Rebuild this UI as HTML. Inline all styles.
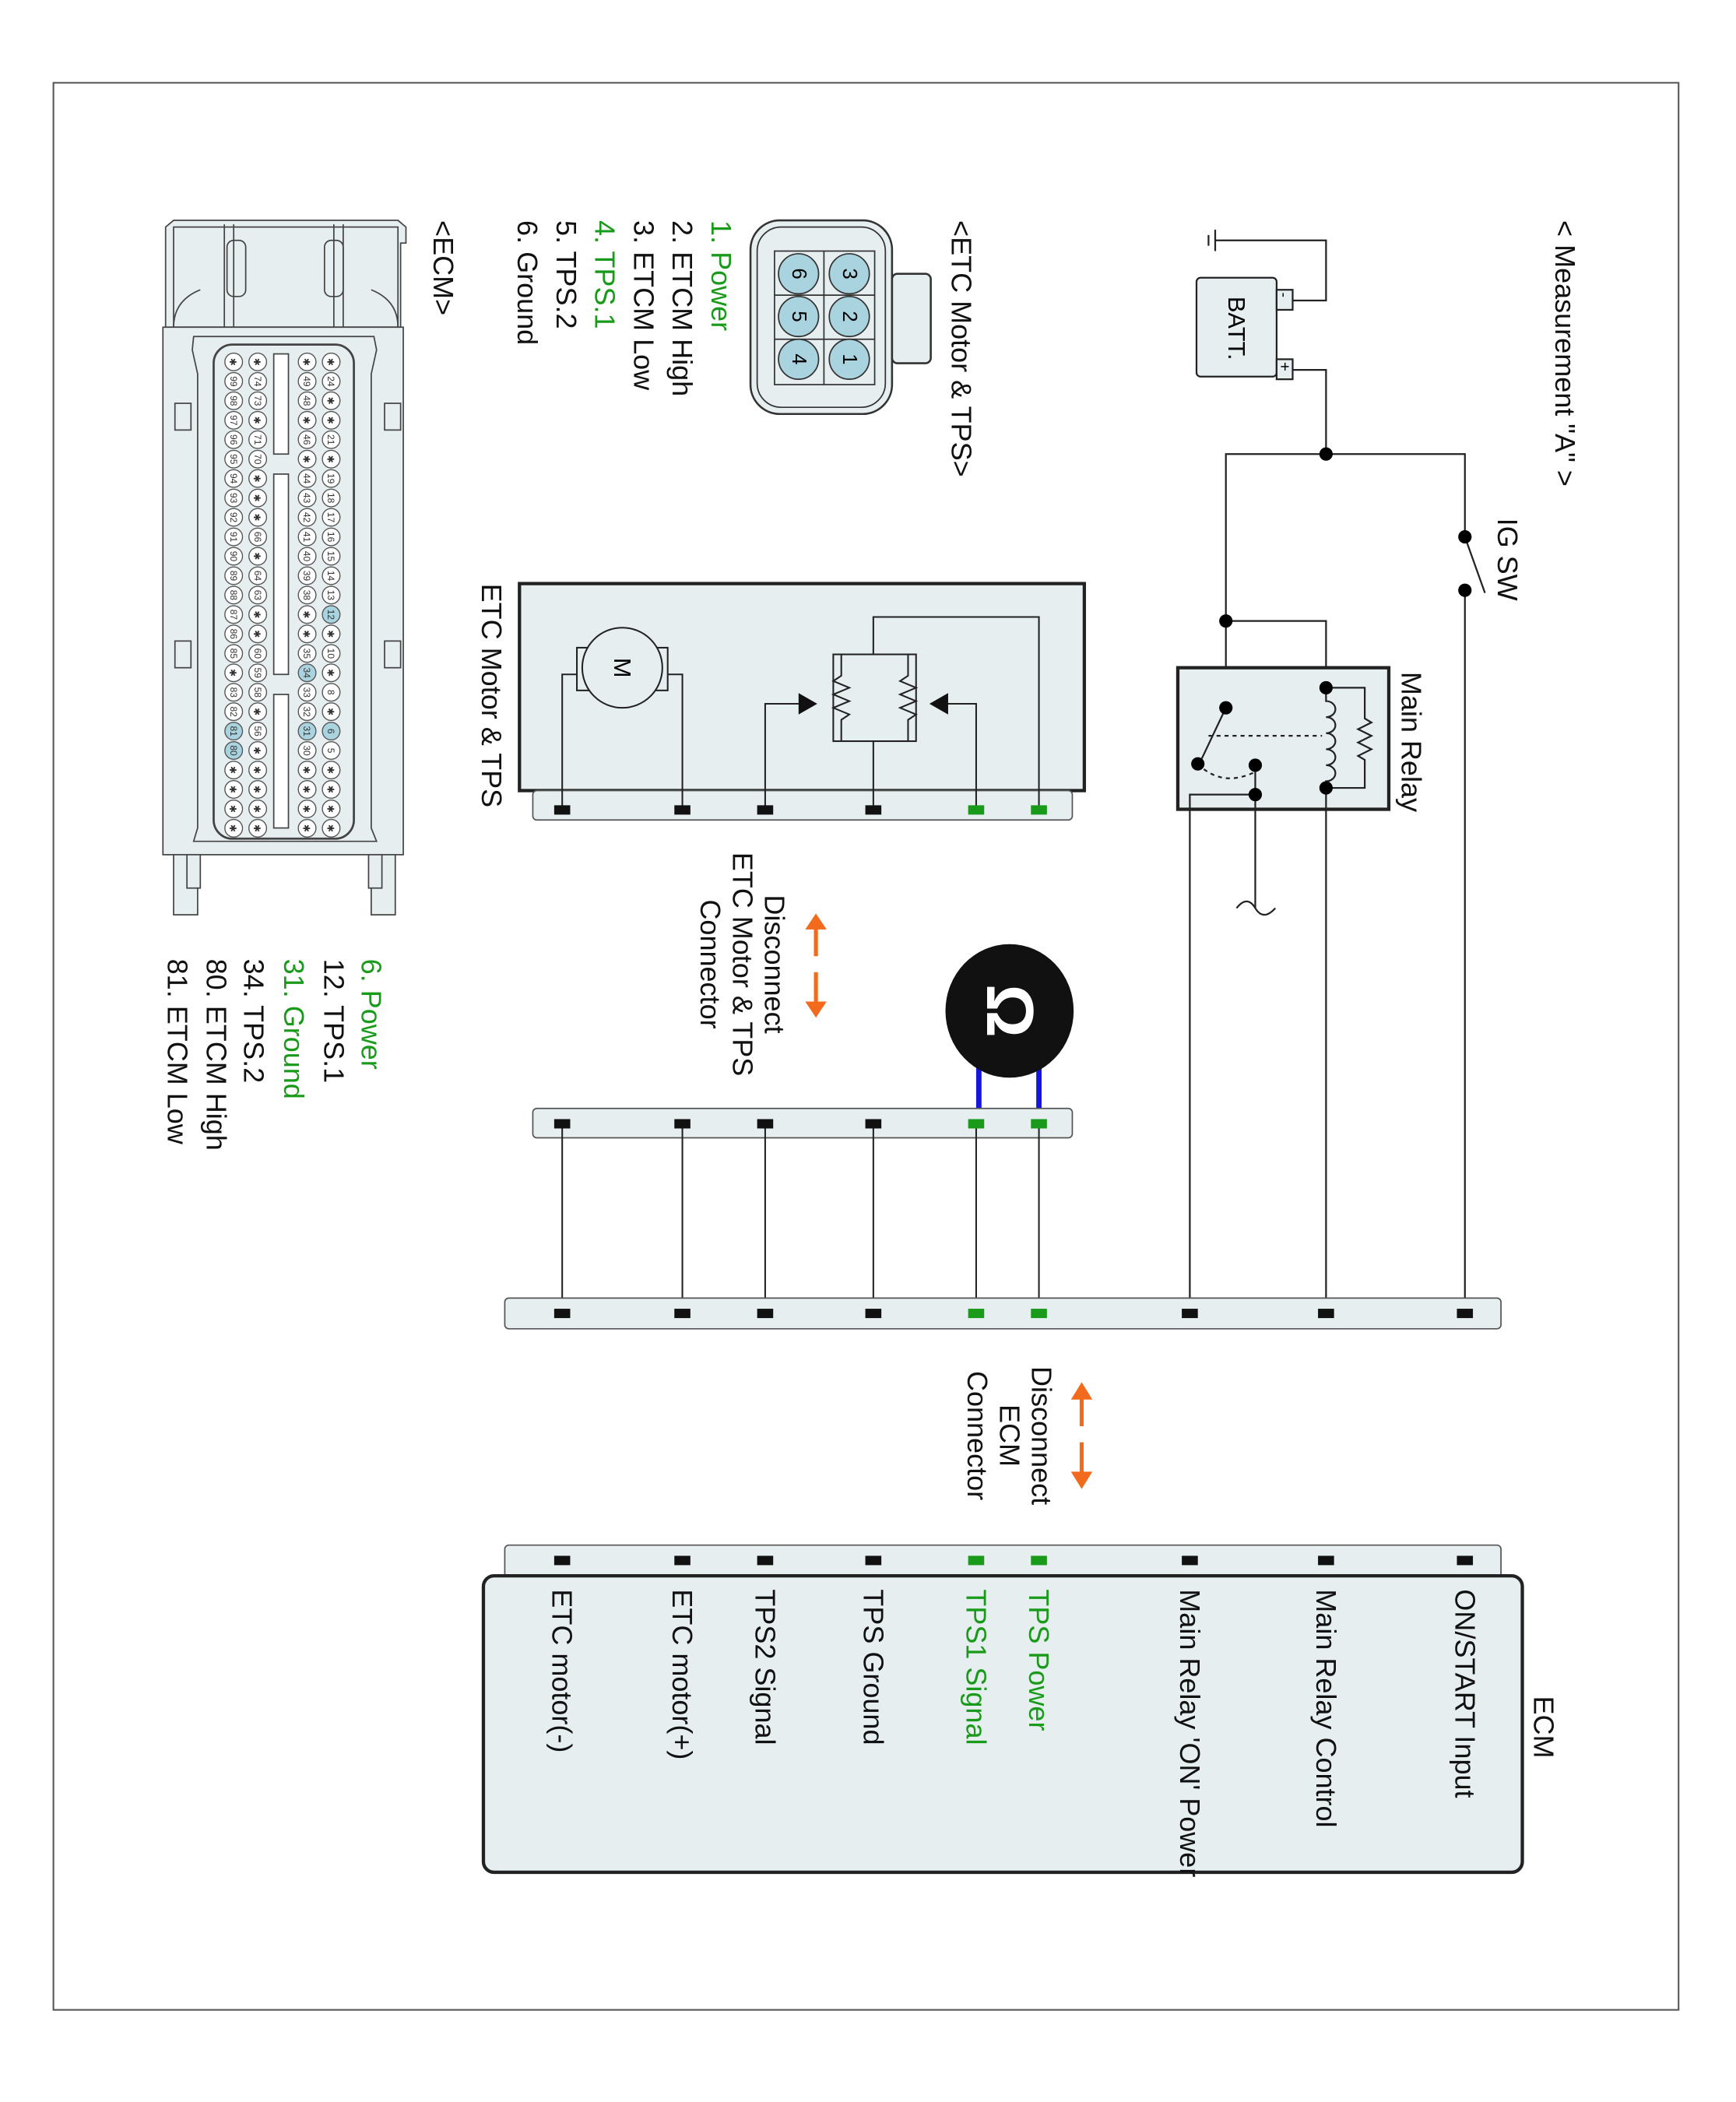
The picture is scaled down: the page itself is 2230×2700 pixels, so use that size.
<!DOCTYPE html>
<html><head><meta charset="utf-8"><style>
html,body{margin:0;padding:0;background:#fff;}
svg{display:block;}
text{font-family:"Liberation Sans",sans-serif;}
.p circle{fill:#fff;stroke:#555;stroke-width:0.8;}
.p.b circle{fill:#a9d3df;}
.p text{font-size:7px;text-anchor:middle;fill:#333;}
.l{font-size:21px;fill:#111;}
.g{fill:#1a9a1a;}
</style></head><body>
<svg width="2230" height="2700" viewBox="0 0 1300 1574" preserveAspectRatio="none" xmlns="http://www.w3.org/2000/svg">
<rect x="0" y="0" width="1300" height="1574" fill="#fff"/>
<rect x="40" y="62" width="1217" height="1443" fill="none" stroke="#555" stroke-width="1.2"/>

<text class="l" transform="translate(1172,165) rotate(90)" dominant-baseline="central">&lt; Measurement "A" &gt;</text>

<g stroke="#222" stroke-width="1.3" fill="none">
<rect x="896" y="208" width="60" height="74" rx="3" fill="#e6eef0"/>
<rect x="956" y="217" width="12" height="15" fill="#e6eef0"/>
<rect x="956" y="269" width="12" height="15" fill="#e6eef0"/>
<polyline points="968,225 993,225 993,180 910,180"/>
<line x1="910" y1="172" x2="910" y2="188"/>
<line x1="905" y1="176" x2="905" y2="184"/>
<polyline points="968,277 993,277 993,340"/>
<polyline points="918,465 918,340 1097,340 1097,402"/>
<line x1="1097" y1="402" x2="1112" y2="444"/>
<line x1="1097" y1="442" x2="1097" y2="983"/>
<polyline points="918,465 918,530"/>
<polyline points="918,465 993,465 993,515"/>
</g>
<text transform="translate(926,222) rotate(90)" font-size="18" dominant-baseline="central">BATT.</text>
<text transform="translate(962,219) rotate(90)" font-size="11" dominant-baseline="central">-</text>
<text transform="translate(962,271) rotate(90)" font-size="12" dominant-baseline="central">+</text>
<circle cx="993" cy="340" r="5"/><circle cx="1097" cy="402" r="5"/><circle cx="1097" cy="442" r="5"/><circle cx="918" cy="465" r="5"/>
<text class="l" transform="translate(1129,388) rotate(90)" dominant-baseline="central">IG SW</text>

<rect x="882" y="500" width="158" height="106" fill="#e6eef0" stroke="#222" stroke-width="2.5"/>
<g stroke="#222" stroke-width="1.3" fill="none">
<path d="M993,515 L993,525 a7,6 0 0 1 0,12 a7,6 0 0 1 0,12 a7,6 0 0 1 0,12 a7,6 0 0 1 0,12 a7,6 0 0 1 0,12 L993,590"/>
<polyline points="993,515 1022,515 1022,538 1027,541 1017,546 1027,551 1017,556 1027,561 1017,566 1022,569 1022,590 993,590"/>
<line x1="918" y1="530" x2="900" y2="568"/>
<line x1="905" y1="551" x2="990" y2="551" stroke-dasharray="3,3"/>
<path d="M897,572 Q915,590 940,578" stroke-dasharray="3,3"/>
<polyline points="940,595 891,595 891,983"/>
<line x1="940" y1="573" x2="940" y2="680"/>
<path d="M926,680 q8,-10 14,0 q6,10 15,0"/>
<line x1="993" y1="590" x2="993" y2="983"/>
</g>
<circle cx="918" cy="530" r="5"/><circle cx="897" cy="572" r="5"/><circle cx="940" cy="573" r="5"/><circle cx="940" cy="595" r="5"/><circle cx="993" cy="515" r="5"/><circle cx="993" cy="590" r="5"/>
<text class="l" transform="translate(1057,503) rotate(90)" dominant-baseline="central">Main Relay</text>

<rect x="389" y="437" width="423" height="155" fill="#e6eef0" stroke="#222" stroke-width="2.5"/>
<rect x="399" y="592" width="404" height="22" rx="3" fill="#e6eef0" stroke="#555" stroke-width="1"/>
<g stroke="#222" stroke-width="1.2" fill="none">
<rect x="432" y="485" width="68" height="32" fill="#e6eef0"/>
<circle cx="466" cy="500" r="30" fill="#e6eef0"/>
<polyline points="432,505 421,505 421,606"/>
<polyline points="500,505 511,505 511,606"/>
<rect x="624" y="490" width="62" height="65" fill="none"/>
<polyline points="630,490 630,506 624,510 636,515 624,520 636,525 624,530 636,535 630,539 630,555"/>
<polyline points="680,490 680,506 674,510 686,515 674,520 686,525 674,530 686,535 680,539 680,555"/>
<polyline points="573,606 573,527 600,527"/>
<polyline points="731,606 731,527 708,527"/>
<polyline points="654,606 654,555"/>
<polyline points="654,490 654,462 778,462 778,606"/>
</g>
<polygon points="598,519 598,535 612,527" fill="#111"/>
<polygon points="710,519 710,535 696,527" fill="#111"/>
<text transform="translate(466,500) rotate(90)" font-size="18" text-anchor="middle" dominant-baseline="central">M</text>
<text class="l" transform="translate(368,437) rotate(90)" dominant-baseline="central">ETC Motor &amp; TPS</text>
<g fill="#111"><rect x="415" y="603" width="12" height="7"/><rect x="505" y="603" width="12" height="7"/><rect x="567" y="603" width="12" height="7"/><rect x="648" y="603" width="12" height="7"/></g>
<g fill="#1a9a1a"><rect x="725" y="603" width="12" height="7"/><rect x="772" y="603" width="12" height="7"/></g>

<g fill="#f26a1b" stroke="#f26a1b" stroke-width="3">
<line x1="611" y1="692" x2="611" y2="716"/><line x1="611" y1="728" x2="611" y2="752"/>
<polygon points="603,696 619,696 611,684" stroke="none"/><polygon points="603,750 619,750 611,762" stroke="none"/>
</g>
<text class="l" transform="translate(580,722) rotate(90)" text-anchor="middle" dominant-baseline="central">Disconnect</text>
<text class="l" transform="translate(556,722) rotate(90)" text-anchor="middle" dominant-baseline="central">ETC Motor &amp; TPS</text>
<text class="l" transform="translate(532,722) rotate(90)" text-anchor="middle" dominant-baseline="central">Connector</text>

<line x1="733" y1="790" x2="733" y2="840" stroke="#1515e0" stroke-width="4"/>
<line x1="778" y1="790" x2="778" y2="840" stroke="#1515e0" stroke-width="4"/>
<ellipse cx="756" cy="757" rx="48" ry="50" fill="#111"/>
<text transform="translate(756,757) rotate(90)" font-size="50" font-weight="bold" fill="#fff" text-anchor="middle" dominant-baseline="central">Ω</text>

<rect x="399" y="830" width="404" height="22" rx="3" fill="#e6eef0" stroke="#555" stroke-width="1"/>
<g stroke="#222" stroke-width="1.2">
<line x1="421" y1="841" x2="421" y2="983"/><line x1="511" y1="841" x2="511" y2="983"/><line x1="573" y1="841" x2="573" y2="983"/><line x1="654" y1="841" x2="654" y2="983"/><line x1="731" y1="841" x2="731" y2="983"/><line x1="778" y1="841" x2="778" y2="983"/>
</g>
<rect x="378" y="972" width="746" height="23" rx="3" fill="#e6eef0" stroke="#555" stroke-width="1"/>
<g fill="#111"><rect x="415" y="838" width="12" height="7"/><rect x="505" y="838" width="12" height="7"/><rect x="567" y="838" width="12" height="7"/><rect x="648" y="838" width="12" height="7"/>
<rect x="415" y="980" width="12" height="7"/><rect x="505" y="980" width="12" height="7"/><rect x="567" y="980" width="12" height="7"/><rect x="648" y="980" width="12" height="7"/><rect x="885" y="980" width="12" height="7"/><rect x="987" y="980" width="12" height="7"/><rect x="1091" y="980" width="12" height="7"/></g>
<g fill="#1a9a1a"><rect x="725" y="838" width="12" height="7"/><rect x="772" y="838" width="12" height="7"/><rect x="725" y="980" width="12" height="7"/><rect x="772" y="980" width="12" height="7"/></g>

<g fill="#f26a1b" stroke="#f26a1b" stroke-width="3">
<line x1="810" y1="1045" x2="810" y2="1068"/><line x1="810" y1="1080" x2="810" y2="1104"/>
<polygon points="802,1048 818,1048 810,1035" stroke="none"/><polygon points="802,1102 818,1102 810,1115" stroke="none"/>
</g>
<text class="l" transform="translate(780,1075) rotate(90)" text-anchor="middle" dominant-baseline="central">Disconnect</text>
<text class="l" transform="translate(756,1075) rotate(90)" text-anchor="middle" dominant-baseline="central">ECM</text>
<text class="l" transform="translate(732,1075) rotate(90)" text-anchor="middle" dominant-baseline="central">Connector</text>

<rect x="378" y="1157" width="746" height="30" rx="3" fill="#e6eef0" stroke="#555" stroke-width="1"/>
<rect x="362" y="1180" width="778" height="222" rx="8" fill="#e6eef0" stroke="#222" stroke-width="2.5"/>
<g fill="#111"><rect x="415" y="1165" width="12" height="7"/><rect x="505" y="1165" width="12" height="7"/><rect x="567" y="1165" width="12" height="7"/><rect x="648" y="1165" width="12" height="7"/><rect x="885" y="1165" width="12" height="7"/><rect x="987" y="1165" width="12" height="7"/><rect x="1091" y="1165" width="12" height="7"/></g>
<g fill="#1a9a1a"><rect x="725" y="1165" width="12" height="7"/><rect x="772" y="1165" width="12" height="7"/></g>
<text class="l" transform="translate(1156,1270) rotate(90)" dominant-baseline="central">ECM</text>
<g class="l">
<text transform="translate(1097,1190) rotate(90)" dominant-baseline="central">ON/START Input</text>
<text transform="translate(993,1190) rotate(90)" dominant-baseline="central">Main Relay Control</text>
<text transform="translate(891,1190) rotate(90)" dominant-baseline="central">Main Relay 'ON' Power</text>
<text class="g" transform="translate(778,1190) rotate(90)" dominant-baseline="central">TPS Power</text>
<text class="g" transform="translate(731,1190) rotate(90)" dominant-baseline="central">TPS1 Signal</text>
<text transform="translate(654,1190) rotate(90)" dominant-baseline="central">TPS Ground</text>
<text transform="translate(573,1190) rotate(90)" dominant-baseline="central">TPS2 Signal</text>
<text transform="translate(511,1190) rotate(90)" dominant-baseline="central">ETC motor(+)</text>
<text transform="translate(421,1190) rotate(90)" dominant-baseline="central">ETC motor(-)</text>
</g>

<text class="l" transform="translate(720,165) rotate(90)" dominant-baseline="central">&lt;ETC Motor &amp; TPS&gt;</text>
<rect x="562" y="165" width="106" height="145" rx="22" fill="#e6eef0" stroke="#333" stroke-width="1.5"/>
<rect x="567" y="170" width="96" height="135" rx="18" fill="none" stroke="#333" stroke-width="1"/>
<rect x="668" y="205" width="29" height="67" rx="4" fill="#e6eef0" stroke="#333" stroke-width="1.5"/>
<rect x="580" y="188" width="75" height="100" fill="#e6eef0" stroke="#333" stroke-width="1"/>
<line x1="617" y1="188" x2="617" y2="288" stroke="#333"/><line x1="580" y1="221" x2="655" y2="221" stroke="#333"/><line x1="580" y1="254" x2="655" y2="254" stroke="#333"/>
<g fill="#a9d3df" stroke="#333" stroke-width="1">
<circle cx="636" cy="205" r="15"/><circle cx="636" cy="237" r="15"/><circle cx="636" cy="269" r="15"/>
<circle cx="598" cy="205" r="15"/><circle cx="598" cy="237" r="15"/><circle cx="598" cy="269" r="15"/>
</g>
<g font-size="15" text-anchor="middle" dominant-baseline="central">
<text transform="translate(636,205) rotate(90)">3</text><text transform="translate(636,237) rotate(90)">2</text><text transform="translate(636,269) rotate(90)">1</text>
<text transform="translate(598,205) rotate(90)">6</text><text transform="translate(598,237) rotate(90)">5</text><text transform="translate(598,269) rotate(90)">4</text>
</g>
<g class="l">
<text class="g" transform="translate(540,165) rotate(90)" dominant-baseline="central">1. Power</text>
<text transform="translate(511,165) rotate(90)" dominant-baseline="central">2. ETCM High</text>
<text transform="translate(482,165) rotate(90)" dominant-baseline="central">3. ETCM Low</text>
<text class="g" transform="translate(453,165) rotate(90)" dominant-baseline="central">4. TPS.1</text>
<text transform="translate(424,165) rotate(90)" dominant-baseline="central">5. TPS.2</text>
<text transform="translate(395,165) rotate(90)" dominant-baseline="central">6. Ground</text>
</g>

<text class="l" transform="translate(332,165) rotate(90)" dominant-baseline="central">&lt;ECM&gt;</text>
<g stroke="#444" stroke-width="1" fill="#e6eef0">
<path d="M124,182 L124,170 L130,165 L298,165 L304,170 L304,182 L300,182 L300,245 L124,245 Z"/>
<rect x="130" y="170" width="168" height="75" fill="none"/>
<rect x="170" y="180" width="14" height="42" rx="5"/>
<rect x="243" y="180" width="14" height="42" rx="5"/>
<line x1="168" y1="168" x2="168" y2="245"/><line x1="175" y1="168" x2="175" y2="245"/>
<line x1="250" y1="168" x2="250" y2="245"/><line x1="257" y1="168" x2="257" y2="245"/>
<path d="M130,245 q0,-20 20,-28" fill="none"/><path d="M298,245 q0,-20 -20,-28" fill="none"/>
<rect x="122" y="245" width="180" height="395"/>
<path d="M145,252 L280,252 L282,262 L278,280 L278,620 L282,630 L145,630 L148,620 L148,280 L144,262 Z"/>
<rect x="160" y="258" width="105" height="370" rx="14" stroke-width="1.6"/>
<rect x="205" y="265" width="11" height="75" fill="#fff"/>
<rect x="205" y="355" width="11" height="150" fill="#fff"/>
<rect x="205" y="520" width="11" height="100" fill="#fff"/>
<rect x="131" y="302" width="12" height="20"/><rect x="288" y="302" width="12" height="20"/>
<rect x="131" y="480" width="12" height="20"/><rect x="288" y="480" width="12" height="20"/>
<rect x="130" y="640" width="18" height="45"/><rect x="140" y="640" width="10" height="25"/>
<rect x="278" y="640" width="18" height="45"/><rect x="276" y="640" width="10" height="25"/>
</g>
<g class="p">
<g transform="translate(248,271) rotate(90)"><circle r="6.6"/><text y="3">✱</text></g>
<g transform="translate(248,285.6) rotate(90)"><circle r="6.6"/><text y="2.5">24</text></g>
<g transform="translate(248,300.1) rotate(90)"><circle r="6.6"/><text y="3">✱</text></g>
<g transform="translate(248,314.7) rotate(90)"><circle r="6.6"/><text y="3">✱</text></g>
<g transform="translate(248,329.2) rotate(90)"><circle r="6.6"/><text y="2.5">21</text></g>
<g transform="translate(248,343.8) rotate(90)"><circle r="6.6"/><text y="3">✱</text></g>
<g transform="translate(248,358.3) rotate(90)"><circle r="6.6"/><text y="2.5">19</text></g>
<g transform="translate(248,372.9) rotate(90)"><circle r="6.6"/><text y="2.5">18</text></g>
<g transform="translate(248,387.4) rotate(90)"><circle r="6.6"/><text y="2.5">17</text></g>
<g transform="translate(248,402) rotate(90)"><circle r="6.6"/><text y="2.5">16</text></g>
<g transform="translate(248,416.5) rotate(90)"><circle r="6.6"/><text y="2.5">15</text></g>
<g transform="translate(248,431.1) rotate(90)"><circle r="6.6"/><text y="2.5">14</text></g>
<g transform="translate(248,445.6) rotate(90)"><circle r="6.6"/><text y="2.5">13</text></g>
<g class="p b" transform="translate(248,460.2) rotate(90)"><circle r="6.6"/><text y="2.5">12</text></g>
<g transform="translate(248,474.7) rotate(90)"><circle r="6.6"/><text y="3">✱</text></g>
<g transform="translate(248,489.3) rotate(90)"><circle r="6.6"/><text y="2.5">10</text></g>
<g transform="translate(248,503.8) rotate(90)"><circle r="6.6"/><text y="3">✱</text></g>
<g transform="translate(248,518.4) rotate(90)"><circle r="6.6"/><text y="2.5">8</text></g>
<g transform="translate(248,532.9) rotate(90)"><circle r="6.6"/><text y="3">✱</text></g>
<g class="p b" transform="translate(248,547.5) rotate(90)"><circle r="6.6"/><text y="2.5">6</text></g>
<g transform="translate(248,562) rotate(90)"><circle r="6.6"/><text y="2.5">5</text></g>
<g transform="translate(248,576.6) rotate(90)"><circle r="6.6"/><text y="3">✱</text></g>
<g transform="translate(248,591.1) rotate(90)"><circle r="6.6"/><text y="3">✱</text></g>
<g transform="translate(248,605.7) rotate(90)"><circle r="6.6"/><text y="3">✱</text></g>
<g transform="translate(248,620.2) rotate(90)"><circle r="6.6"/><text y="3">✱</text></g>
<g transform="translate(230,271) rotate(90)"><circle r="6.6"/><text y="3">✱</text></g>
<g transform="translate(230,285.6) rotate(90)"><circle r="6.6"/><text y="2.5">49</text></g>
<g transform="translate(230,300.1) rotate(90)"><circle r="6.6"/><text y="2.5">48</text></g>
<g transform="translate(230,314.7) rotate(90)"><circle r="6.6"/><text y="3">✱</text></g>
<g transform="translate(230,329.2) rotate(90)"><circle r="6.6"/><text y="2.5">46</text></g>
<g transform="translate(230,343.8) rotate(90)"><circle r="6.6"/><text y="3">✱</text></g>
<g transform="translate(230,358.3) rotate(90)"><circle r="6.6"/><text y="2.5">44</text></g>
<g transform="translate(230,372.9) rotate(90)"><circle r="6.6"/><text y="2.5">43</text></g>
<g transform="translate(230,387.4) rotate(90)"><circle r="6.6"/><text y="2.5">42</text></g>
<g transform="translate(230,402) rotate(90)"><circle r="6.6"/><text y="2.5">41</text></g>
<g transform="translate(230,416.5) rotate(90)"><circle r="6.6"/><text y="2.5">40</text></g>
<g transform="translate(230,431.1) rotate(90)"><circle r="6.6"/><text y="2.5">39</text></g>
<g transform="translate(230,445.6) rotate(90)"><circle r="6.6"/><text y="2.5">38</text></g>
<g transform="translate(230,460.2) rotate(90)"><circle r="6.6"/><text y="3">✱</text></g>
<g transform="translate(230,474.7) rotate(90)"><circle r="6.6"/><text y="3">✱</text></g>
<g transform="translate(230,489.3) rotate(90)"><circle r="6.6"/><text y="2.5">35</text></g>
<g class="p b" transform="translate(230,503.8) rotate(90)"><circle r="6.6"/><text y="2.5">34</text></g>
<g transform="translate(230,518.4) rotate(90)"><circle r="6.6"/><text y="2.5">33</text></g>
<g transform="translate(230,532.9) rotate(90)"><circle r="6.6"/><text y="2.5">32</text></g>
<g class="p b" transform="translate(230,547.5) rotate(90)"><circle r="6.6"/><text y="2.5">31</text></g>
<g transform="translate(230,562) rotate(90)"><circle r="6.6"/><text y="2.5">30</text></g>
<g transform="translate(230,576.6) rotate(90)"><circle r="6.6"/><text y="3">✱</text></g>
<g transform="translate(230,591.1) rotate(90)"><circle r="6.6"/><text y="3">✱</text></g>
<g transform="translate(230,605.7) rotate(90)"><circle r="6.6"/><text y="3">✱</text></g>
<g transform="translate(230,620.2) rotate(90)"><circle r="6.6"/><text y="3">✱</text></g>
<g transform="translate(193,271) rotate(90)"><circle r="6.6"/><text y="3">✱</text></g>
<g transform="translate(193,285.6) rotate(90)"><circle r="6.6"/><text y="2.5">74</text></g>
<g transform="translate(193,300.1) rotate(90)"><circle r="6.6"/><text y="2.5">73</text></g>
<g transform="translate(193,314.7) rotate(90)"><circle r="6.6"/><text y="3">✱</text></g>
<g transform="translate(193,329.2) rotate(90)"><circle r="6.6"/><text y="2.5">71</text></g>
<g transform="translate(193,343.8) rotate(90)"><circle r="6.6"/><text y="2.5">70</text></g>
<g transform="translate(193,358.3) rotate(90)"><circle r="6.6"/><text y="3">✱</text></g>
<g transform="translate(193,372.9) rotate(90)"><circle r="6.6"/><text y="3">✱</text></g>
<g transform="translate(193,387.4) rotate(90)"><circle r="6.6"/><text y="3">✱</text></g>
<g transform="translate(193,402) rotate(90)"><circle r="6.6"/><text y="2.5">66</text></g>
<g transform="translate(193,416.5) rotate(90)"><circle r="6.6"/><text y="3">✱</text></g>
<g transform="translate(193,431.1) rotate(90)"><circle r="6.6"/><text y="2.5">64</text></g>
<g transform="translate(193,445.6) rotate(90)"><circle r="6.6"/><text y="2.5">63</text></g>
<g transform="translate(193,460.2) rotate(90)"><circle r="6.6"/><text y="3">✱</text></g>
<g transform="translate(193,474.7) rotate(90)"><circle r="6.6"/><text y="3">✱</text></g>
<g transform="translate(193,489.3) rotate(90)"><circle r="6.6"/><text y="2.5">60</text></g>
<g transform="translate(193,503.8) rotate(90)"><circle r="6.6"/><text y="2.5">59</text></g>
<g transform="translate(193,518.4) rotate(90)"><circle r="6.6"/><text y="2.5">58</text></g>
<g transform="translate(193,532.9) rotate(90)"><circle r="6.6"/><text y="3">✱</text></g>
<g transform="translate(193,547.5) rotate(90)"><circle r="6.6"/><text y="2.5">56</text></g>
<g transform="translate(193,562) rotate(90)"><circle r="6.6"/><text y="3">✱</text></g>
<g transform="translate(193,576.6) rotate(90)"><circle r="6.6"/><text y="3">✱</text></g>
<g transform="translate(193,591.1) rotate(90)"><circle r="6.6"/><text y="3">✱</text></g>
<g transform="translate(193,605.7) rotate(90)"><circle r="6.6"/><text y="3">✱</text></g>
<g transform="translate(193,620.2) rotate(90)"><circle r="6.6"/><text y="3">✱</text></g>
<g transform="translate(175,271) rotate(90)"><circle r="6.6"/><text y="3">✱</text></g>
<g transform="translate(175,285.6) rotate(90)"><circle r="6.6"/><text y="2.5">99</text></g>
<g transform="translate(175,300.1) rotate(90)"><circle r="6.6"/><text y="2.5">98</text></g>
<g transform="translate(175,314.7) rotate(90)"><circle r="6.6"/><text y="2.5">97</text></g>
<g transform="translate(175,329.2) rotate(90)"><circle r="6.6"/><text y="2.5">96</text></g>
<g transform="translate(175,343.8) rotate(90)"><circle r="6.6"/><text y="2.5">95</text></g>
<g transform="translate(175,358.3) rotate(90)"><circle r="6.6"/><text y="2.5">94</text></g>
<g transform="translate(175,372.9) rotate(90)"><circle r="6.6"/><text y="2.5">93</text></g>
<g transform="translate(175,387.4) rotate(90)"><circle r="6.6"/><text y="2.5">92</text></g>
<g transform="translate(175,402) rotate(90)"><circle r="6.6"/><text y="2.5">91</text></g>
<g transform="translate(175,416.5) rotate(90)"><circle r="6.6"/><text y="2.5">90</text></g>
<g transform="translate(175,431.1) rotate(90)"><circle r="6.6"/><text y="2.5">89</text></g>
<g transform="translate(175,445.6) rotate(90)"><circle r="6.6"/><text y="2.5">88</text></g>
<g transform="translate(175,460.2) rotate(90)"><circle r="6.6"/><text y="2.5">87</text></g>
<g transform="translate(175,474.7) rotate(90)"><circle r="6.6"/><text y="2.5">86</text></g>
<g transform="translate(175,489.3) rotate(90)"><circle r="6.6"/><text y="2.5">85</text></g>
<g transform="translate(175,503.8) rotate(90)"><circle r="6.6"/><text y="3">✱</text></g>
<g transform="translate(175,518.4) rotate(90)"><circle r="6.6"/><text y="2.5">83</text></g>
<g transform="translate(175,532.9) rotate(90)"><circle r="6.6"/><text y="2.5">82</text></g>
<g class="p b" transform="translate(175,547.5) rotate(90)"><circle r="6.6"/><text y="2.5">81</text></g>
<g class="p b" transform="translate(175,562) rotate(90)"><circle r="6.6"/><text y="2.5">80</text></g>
<g transform="translate(175,576.6) rotate(90)"><circle r="6.6"/><text y="3">✱</text></g>
<g transform="translate(175,591.1) rotate(90)"><circle r="6.6"/><text y="3">✱</text></g>
<g transform="translate(175,605.7) rotate(90)"><circle r="6.6"/><text y="3">✱</text></g>
<g transform="translate(175,620.2) rotate(90)"><circle r="6.6"/><text y="3">✱</text></g>
</g>

<g class="l">
<text class="g" transform="translate(278,718) rotate(90)" dominant-baseline="central">6. Power</text>
<text transform="translate(250,718) rotate(90)" dominant-baseline="central">12. TPS.1</text>
<text class="g" transform="translate(220,718) rotate(90)" dominant-baseline="central">31. Ground</text>
<text transform="translate(190,718) rotate(90)" dominant-baseline="central">34. TPS.2</text>
<text transform="translate(162,718) rotate(90)" dominant-baseline="central">80. ETCM High</text>
<text transform="translate(133,718) rotate(90)" dominant-baseline="central">81. ETCM Low</text>
</g>
</svg>
</body></html>
